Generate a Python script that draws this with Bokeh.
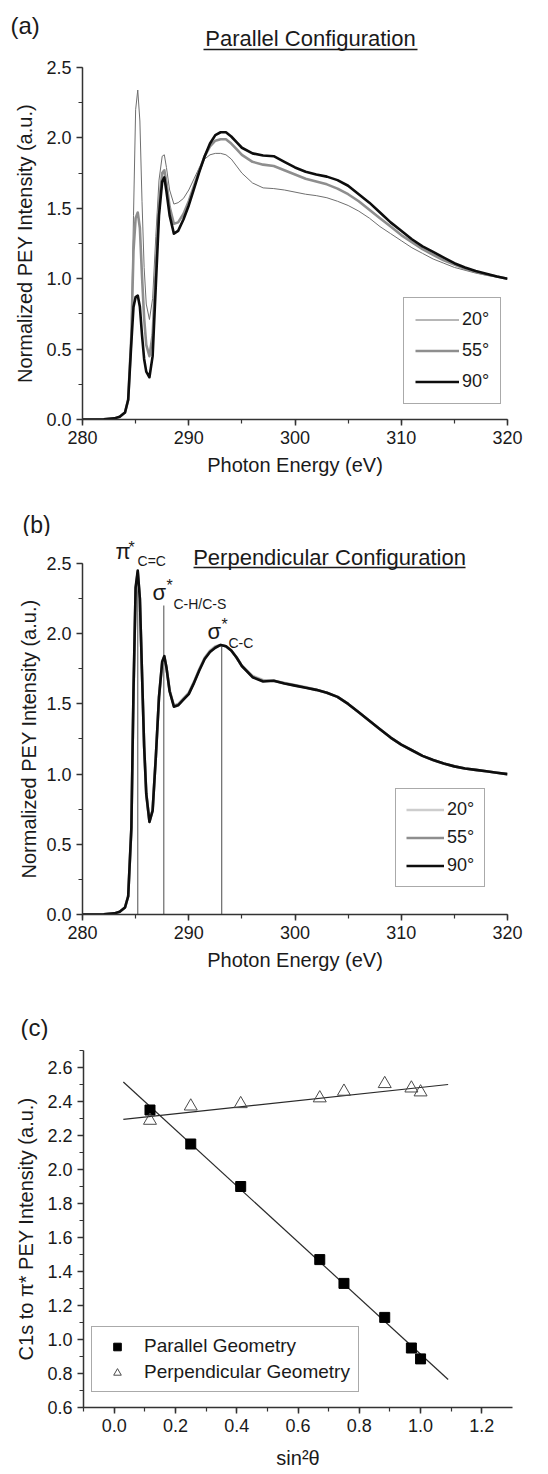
from bokeh.plotting import figure
from bokeh.models import (Label, Legend, LegendItem, SingleIntervalTicker,
                          PrintfTickFormatter, Title)
from bokeh.core.properties import value
from bokeh.layouts import column
from bokeh.embed import file_html
from bokeh.resources import INLINE

# ---------------- data ----------------
energy = [280, 282, 283, 283.5, 284, 284.3, 284.6, 284.8, 285.0, 285.2,
          285.4, 285.6, 285.8, 286.0, 286.3, 286.6, 286.9, 287.2, 287.5, 287.7,
          287.9, 288.2, 288.6, 289.0, 289.5, 290, 290.5, 291, 291.5, 292,
          292.5, 293, 293.5, 294, 294.5, 295, 296, 297, 298, 299,
          300, 301, 302, 303, 304, 305, 306, 307, 308, 309,
          310, 311, 312, 313, 314, 315, 316, 317, 318, 319, 320]

par_20 = [0.0, 0.002, 0.008, 0.02, 0.05, 0.14, 0.65, 1.45, 2.2, 2.34,
          2.12, 1.55, 1.08, 0.82, 0.71, 0.86, 1.3, 1.7, 1.87, 1.88,
          1.79, 1.63, 1.53, 1.54, 1.57, 1.63, 1.71, 1.79, 1.85, 1.88,
          1.89, 1.89, 1.88, 1.85, 1.80, 1.75, 1.68, 1.645, 1.64, 1.63,
          1.615, 1.60, 1.59, 1.575, 1.55, 1.52, 1.48, 1.43, 1.37, 1.32,
          1.27, 1.22, 1.18, 1.14, 1.11, 1.08, 1.06, 1.04, 1.025, 1.012, 1.0]
par_55 = [0.0, 0.002, 0.008, 0.02, 0.05, 0.14, 0.6, 1.2, 1.43, 1.47,
          1.36, 1.02, 0.72, 0.53, 0.45, 0.6, 1.08, 1.53, 1.75, 1.77,
          1.68, 1.51, 1.39, 1.40, 1.46, 1.55, 1.66, 1.77, 1.87, 1.94,
          1.98, 1.99, 1.99, 1.96, 1.92, 1.88, 1.83, 1.81, 1.80, 1.77,
          1.74, 1.71, 1.69, 1.67, 1.64, 1.60, 1.55, 1.49, 1.43, 1.37,
          1.31, 1.26, 1.21, 1.17, 1.13, 1.10, 1.07, 1.05, 1.03, 1.015, 1.0]
par_90 = [0.0, 0.002, 0.008, 0.02, 0.05, 0.14, 0.55, 0.8, 0.87, 0.88,
          0.8, 0.6, 0.43, 0.34, 0.30, 0.45, 0.95, 1.45, 1.69, 1.72,
          1.62, 1.45, 1.32, 1.34, 1.42, 1.52, 1.64, 1.76, 1.87, 1.96,
          2.02, 2.04, 2.04, 2.01, 1.97, 1.93, 1.89, 1.875, 1.87, 1.83,
          1.79, 1.76, 1.74, 1.725, 1.70, 1.66, 1.60, 1.54, 1.47, 1.40,
          1.34, 1.28, 1.23, 1.19, 1.15, 1.11, 1.08, 1.055, 1.035, 1.015, 1.0]

perp_20 = [0.0, 0.002, 0.008, 0.02, 0.05, 0.13, 0.6, 1.55, 2.3, 2.43,
           2.24, 1.72, 1.21, 0.87, 0.67, 0.75, 1.12, 1.54, 1.79, 1.83,
           1.76, 1.60, 1.49, 1.50, 1.54, 1.58, 1.66, 1.75, 1.83, 1.88,
           1.91, 1.92, 1.91, 1.88, 1.83, 1.77, 1.70, 1.67, 1.665, 1.65,
           1.635, 1.62, 1.60, 1.58, 1.55, 1.50, 1.44, 1.38, 1.32, 1.26,
           1.21, 1.17, 1.13, 1.10, 1.075, 1.055, 1.04, 1.03, 1.02, 1.01, 1.0]
perp_55 = [0.0, 0.002, 0.008, 0.02, 0.05, 0.13, 0.61, 1.58, 2.32, 2.44,
           2.25, 1.72, 1.2, 0.86, 0.66, 0.74, 1.12, 1.55, 1.80, 1.84,
           1.76, 1.59, 1.485, 1.495, 1.535, 1.575, 1.655, 1.745, 1.825, 1.875,
           1.905, 1.92, 1.91, 1.88, 1.83, 1.77, 1.695, 1.665, 1.665, 1.647,
           1.632, 1.617, 1.60, 1.58, 1.55, 1.50, 1.44, 1.38, 1.32, 1.26,
           1.21, 1.17, 1.13, 1.10, 1.075, 1.055, 1.04, 1.03, 1.02, 1.01, 1.0]
perp_90 = [0.0, 0.002, 0.008, 0.02, 0.05, 0.13, 0.62, 1.6, 2.33, 2.45,
           2.25, 1.72, 1.2, 0.86, 0.66, 0.74, 1.12, 1.55, 1.80, 1.84,
           1.76, 1.59, 1.48, 1.49, 1.53, 1.57, 1.65, 1.74, 1.82, 1.87,
           1.90, 1.92, 1.91, 1.88, 1.83, 1.77, 1.69, 1.66, 1.665, 1.645,
           1.63, 1.615, 1.60, 1.58, 1.55, 1.50, 1.44, 1.38, 1.32, 1.26,
           1.21, 1.17, 1.13, 1.10, 1.075, 1.055, 1.04, 1.03, 1.02, 1.01, 1.0]

angle_labels = ["20°", "55°", "90°"]

# resonance positions (eV) and heights of the marker lines in panel (b)
peak_energy = [285.2, 287.65, 293.1]
peak_top = [2.45, 2.2, 1.92]

# panel (c)
sin2 = [0.117, 0.25, 0.413, 0.671, 0.75, 0.883, 0.970, 1.0]
par_int = [2.35, 2.15, 1.90, 1.47, 1.33, 1.13, 0.95, 0.886]
perp_int = [2.288, 2.372, 2.386, 2.42, 2.459, 2.504, 2.478, 2.455]
fit_x = [0.03, 1.09]
par_fit = [2.515, 0.765]
perp_fit = [2.295, 2.50]
geometry_labels = ["Parallel Geometry", "Perpendicular Geometry"]

FONT = "Liberation Sans"
AX = "#333333"
TXT = "#1a1a1a"
W = 548


def make_fig(xr, yr, fw, fh, ml, mr, mt, mb):
    p = figure(x_range=xr, y_range=yr, frame_width=fw, frame_height=fh,
               min_border_left=ml, min_border_right=mr, min_border_top=mt,
               min_border_bottom=mb, output_backend="svg", toolbar_location=None,
               background_fill_color="white", border_fill_color="white",
               frame_align=False)
    p.grid.visible = False
    p.outline_line_color = None
    return p


def header(h):
    f = figure(x_range=(0, W), y_range=(h, 0), width=W, height=h,
               min_border_left=0, min_border_right=0, min_border_top=0,
               min_border_bottom=0, x_axis_location=None, y_axis_location=None,
               output_backend="svg", toolbar_location=None,
               background_fill_color="white", border_fill_color="white",
               frame_align=False)
    f.grid.visible = False
    f.outline_line_color = None
    return f


def header_text(f, x, y, text, size, align="left"):
    f.text(x=[x], y=[y], text=[text], text_font=value(FONT), text_font_size=size,
           text_align=align, text_baseline="middle", text_color=TXT)


def style_axes(p, xint, yint, xb, yb, xfmt, yfmt, xlabel, ylabel):
    for ax in (p.xaxis[0], p.yaxis[0]):
        ax.axis_line_color = AX
        ax.axis_line_width = 1.5
        ax.major_tick_line_color = AX
        ax.major_tick_line_width = 1.5
        ax.minor_tick_line_color = AX
        ax.minor_tick_line_width = 1.2
        ax.major_tick_in = 0
        ax.major_tick_out = 6
        ax.minor_tick_in = 0
        ax.minor_tick_out = 4
        ax.major_label_text_font = FONT
        ax.major_label_text_font_size = "18px"
        ax.major_label_text_color = TXT
        ax.axis_label_text_font = FONT
        ax.axis_label_text_font_size = "20px"
        ax.axis_label_text_font_style = "normal"
        ax.axis_label_text_color = TXT
        ax.major_label_standoff = 5
        ax.axis_label_standoff = 7
    p.xaxis[0].ticker = SingleIntervalTicker(interval=xint, num_minor_ticks=2)
    p.yaxis[0].ticker = SingleIntervalTicker(interval=yint, num_minor_ticks=2)
    p.xaxis[0].formatter = PrintfTickFormatter(format=xfmt)
    p.yaxis[0].formatter = PrintfTickFormatter(format=yfmt)
    p.xaxis[0].bounds = xb
    p.yaxis[0].bounds = yb
    p.xaxis[0].axis_label = xlabel
    p.yaxis[0].axis_label = ylabel


def add_label(p, x, y, text, size, align="left"):
    p.add_layout(Label(x=x, y=y, text=text, text_font=FONT, text_font_size=size,
                       text_align=align, text_baseline="middle", text_color=TXT))


def style_legend(lg, glyph_w, pad, spacing, h):
    lg.label_text_font = FONT
    lg.label_text_font_size = "18px"
    lg.label_text_color = TXT
    lg.glyph_width = glyph_w
    lg.glyph_height = h
    lg.label_height = h
    lg.label_standoff = 3
    lg.spacing = spacing
    lg.padding = pad
    lg.margin = 0
    lg.border_line_color = "#555555"
    lg.border_line_width = 1
    lg.background_fill_color = "white"
    lg.background_fill_alpha = 1.0


# ---------------- panel (a) ----------------
ha = header(57)
header_text(ha, 10, 25, "(a)", "24px")
header_text(ha, 310, 38, "Parallel Configuration", "22px", align="center")
ha.segment(x0=[203], y0=[49], x1=[417], y1=[49], line_color=TXT, line_width=1.5)

pa = make_fig((280, 320), (0, 2.5), 425, 352, 82, 41, 10, 61)
style_axes(pa, 10, 0.5, (280, 320), (0, 2.5), "%d", "%.1f",
           "Photon Energy (eV)", "Normalized PEY Intensity (a.u.)")
ra1 = pa.line(energy, par_20, line_color="#6f6f6f", line_width=1.0, line_join="round")
ra2 = pa.line(energy, par_55, line_color="#8e8e8e", line_width=2.6, line_join="round")
ra3 = pa.line(energy, par_90, line_color="#0d0d0d", line_width=2.6, line_join="round")
lga = Legend(items=[LegendItem(label=angle_labels[0], renderers=[ra1]),
                    LegendItem(label=angle_labels[1], renderers=[ra2]),
                    LegendItem(label=angle_labels[2], renderers=[ra3])],
             location=(321, 15))
style_legend(lga, 44, 11, 10, 21)
pa.add_layout(lga)

# ---------------- panel (b) ----------------
hb = header(56)
header_text(hb, 22, 44, "(b)", "23px")

pb = make_fig((280, 320), (0, 2.6923), 425, 378, 82, 41, 0, 62)
style_axes(pb, 10, 0.5, (280, 320), (0, 2.5), "%d", "%.1f",
           "Photon Energy (eV)", None)
pb.add_layout(Title(text="Normalized PEY Intensity (a.u.)", align="left", offset=36,
                    text_font=FONT, text_font_size="20px", text_font_style="normal",
                    text_color=TXT, standoff=7), "left")
pb.segment(x0=peak_energy, y0=[0, 0, 0], x1=peak_energy, y1=peak_top,
           line_color="#6a6a6a", line_width=1.2)
rb1 = pb.line(energy, perp_20, line_color="#cdcdcd", line_width=2.6, line_join="round")
rb2 = pb.line(energy, perp_55, line_color="#8e8e8e", line_width=2.6, line_join="round")
rb3 = pb.line(energy, perp_90, line_color="#0d0d0d", line_width=2.6, line_join="round")
lgb = Legend(items=[LegendItem(label=angle_labels[0], renderers=[rb1]),
                    LegendItem(label=angle_labels[1], renderers=[rb2]),
                    LegendItem(label=angle_labels[2], renderers=[rb3])],
             location=(313, 27))
style_legend(lgb, 38, 10, 7, 21)
pb.add_layout(lgb)
add_label(pb, 303.25, 2.543, "Perpendicular Configuration", "22px", align="center")
pb.segment(x0=[290.45], y0=[2.471], x1=[316.05], y1=[2.471], line_color=TXT, line_width=1.5)
# resonance labels
add_label(pb, 283.11, 2.585, "π", "22px")
add_label(pb, 284.33, 2.612, "*", "16px")
add_label(pb, 285.18, 2.515, "C=C", "14px")
add_label(pb, 286.59, 2.293, "σ", "22px")
add_label(pb, 287.91, 2.345, "*", "16px")
add_label(pb, 288.56, 2.208, "C-H/C-S", "14px")
add_label(pb, 291.76, 2.016, "σ", "22px")
add_label(pb, 293.08, 2.068, "*", "16px")
add_label(pb, 293.74, 1.937, "C-C", "14px")

# ---------------- panel (c) ----------------
hc = header(64)
header_text(hc, 20, 51, "(c)", "24px")

pc = make_fig((-0.1, 1.3), (0.6, 2.7), 429, 357, 83, 36, 10, 67)
style_axes(pc, 0.2, 0.2, (-0.1, 1.3), (0.6, 2.7), "%.1f", "%.1f",
           "sin²θ", "C1s to π* PEY Intensity (a.u.)")
pc.xaxis[0].axis_label_standoff = 12
pc.line(fit_x, par_fit, line_color="#2a2a2a", line_width=1.2)
pc.line(fit_x, perp_fit, line_color="#2a2a2a", line_width=1.2)
rc1 = pc.scatter(sin2, par_int, marker="square", size=10, fill_color="black",
                 line_color="black")
rc2 = pc.scatter(sin2, perp_int, marker="triangle", size=13, fill_color="white",
                 fill_alpha=0.0, line_color="#4a4a4a", line_width=1.0)
lgc = Legend(items=[LegendItem(label=geometry_labels[0], renderers=[rc1]),
                    LegendItem(label=geometry_labels[1], renderers=[rc2])],
             location=(8, 15))
style_legend(lgc, 34, 8, 4, 19)
lgc.label_text_font_size = "19px"
lgc.label_standoff = 10
pc.add_layout(lgc)

layout = column(ha, pa, hb, pb, hc, pc)
open("out.html", "w").write(file_html(layout, INLINE))
